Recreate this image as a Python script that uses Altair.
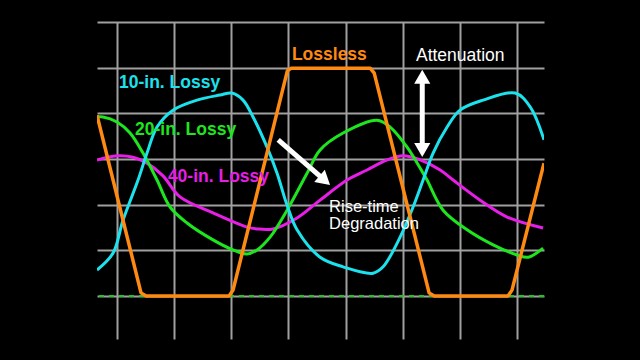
import altair as alt
import pandas as pd

# ---- data (x in grid divisions, y in grid divisions above the baseline) ----
lossless_x = [-0.35, 0.42, 0.51, 1.96, 2.03, 2.98, 3.05, 4.43, 4.50, 5.46, 5.55, 6.84, 6.91, 7.47]
lossless_y = [3.96, 0.07, 0.0, 0.0, 0.13, 4.93, 4.99, 4.99, 4.88, 0.07, 0.0, 0.0, 0.13, 2.91]

lossy10_x = [-0.35, -0.07, 0.105, 0.368, 0.525, 0.70, 0.98, 1.40, 1.80, 2.01, 2.205, 2.38, 2.625,
             2.80, 2.975, 3.15, 3.553, 3.955, 4.48, 4.655, 4.953, 5.18, 5.355, 5.53, 5.775, 6.00,
             6.405, 6.965, 7.228, 7.47]
lossy10_y = [0.57, 0.94, 1.66, 2.54, 3.13, 3.70, 4.07, 4.29, 4.40, 4.445, 4.29, 3.92, 3.26,
             2.69, 1.99, 1.45, 0.85, 0.64, 0.50, 0.64, 1.29, 1.95, 2.54, 3.13, 3.70, 4.07,
             4.29, 4.445, 4.14, 3.42]

lossy20_x = [-0.35, -0.245, 0.0, 0.228, 0.455, 0.70, 0.928, 1.225, 1.68, 2.03, 2.275, 2.45, 2.678,
             2.975, 3.325, 3.553, 3.955, 4.55, 4.778, 5.075, 5.355, 5.425, 5.705, 6.125, 6.58,
             7.0, 7.193, 7.455]
lossy20_y = [3.92, 3.92, 3.81, 3.57, 3.13, 2.54, 1.95, 1.60, 1.23, 1.01, 0.92, 1.01, 1.29,
             1.88, 2.69, 3.20, 3.57, 3.85, 3.70, 3.26, 2.69, 2.54, 1.88, 1.45, 1.12,
             0.90, 0.85, 1.05]

lossy40_x = [-0.35, 0.0, 0.28, 0.525, 0.805, 1.103, 1.68, 2.275, 2.45, 2.73, 3.15, 3.553, 4.025,
             4.375, 4.725, 5.005, 5.303, 5.653, 5.88, 6.353, 6.825, 7.455]
lossy40_y = [2.98, 3.07, 3.04, 2.91, 2.63, 2.17, 1.82, 1.51, 1.47, 1.47, 1.71, 2.10, 2.54,
             2.76, 2.98, 3.07, 2.98, 2.76, 2.54, 2.10, 1.73, 1.49]

grid_x = [0, 1, 2, 3, 4, 5, 6, 7]
grid_y = [0, 1, 2, 3, 4, 5, 6]

series_names = ["40-in. Lossy", "20-in. Lossy", "10-in. Lossy", "Lossless"]
series_colors = ["#E61EE6", "#1EE61E", "#1CE2EE", "#FF8A12"]

label_text = ["10-in. Lossy", "20-in. Lossy", "40-in. Lossy", "Lossless"]
label_x = [0.035, 0.315, 0.89, 3.06]
label_y = [4.55, 3.53, 2.50, 5.17]
label_color = ["#1CE2EE", "#1EE61E", "#E61EE6", "#FF8A12"]

note_text = ["Attenuation", "Rise-time", "Degradation"]
note_x = [5.23, 3.71, 3.71]
note_y = [5.15, 1.84, 1.47]
note_size = [17.5, 16.5, 16.5]

# arrows: shafts and heads
shaft_x = [5.34, 2.82]
shaft_y = [4.73, 3.42]
shaft_x2 = [5.34, 3.59]
shaft_y2 = [3.26, 2.58]
head_x = [5.34, 5.34, 3.635]
head_y = [4.80, 3.20, 2.53]
head_angle = [0, 180, 131]

# ---- tables ----
rows = []
for i, (a, b) in enumerate(zip(lossless_x, lossless_y)):
    rows.append({"series": "Lossless", "x": a, "y": b, "i": i})
lossless_df = pd.DataFrame(rows)

rows = []
for name, xs_, ys_ in [("40-in. Lossy", lossy40_x, lossy40_y),
                       ("20-in. Lossy", lossy20_x, lossy20_y),
                       ("10-in. Lossy", lossy10_x, lossy10_y)]:
    for i, (a, b) in enumerate(zip(xs_, ys_)):
        rows.append({"series": name, "x": a, "y": b, "i": i})
lossy_df = pd.DataFrame(rows)

labels_df = pd.DataFrame({"text": label_text, "x": label_x, "y": label_y, "color": label_color})
notes_df = pd.DataFrame({"text": note_text, "x": note_x, "y": note_y, "fs": note_size})
shaft_df = pd.DataFrame({"x": shaft_x, "y": shaft_y, "x2": shaft_x2, "y2": shaft_y2})
head_df = pd.DataFrame({"x": head_x, "y": head_y, "angle": head_angle})
base_df = pd.DataFrame({"y": [0]})

xs = alt.Scale(domain=[-0.35, 7.47], nice=False, zero=False)
ys = alt.Scale(domain=[-0.94, 6.0], nice=False, zero=False)
cs = alt.Scale(domain=series_names, range=series_colors)

xaxis = alt.Axis(values=grid_x, grid=True, gridColor="#A0A0A0", gridWidth=2, gridOpacity=1,
                 labels=False, ticks=False, domain=False, title="")
yaxis = alt.Axis(values=grid_y, grid=True, gridColor="#A0A0A0", gridWidth=2, gridOpacity=1,
                 labels=False, ticks=False, domain=False, title="")

grid = alt.Chart(base_df).mark_point(opacity=0).encode(
    x=alt.X("y:Q", scale=xs, axis=xaxis),
    y=alt.Y("y:Q", scale=ys, axis=yaxis),
)

baseline = alt.Chart(base_df).mark_rule(color="#1EC81E", strokeWidth=2, strokeDash=[5, 5]).encode(
    y=alt.Y("y:Q", scale=ys)
)

lossy = alt.Chart(lossy_df).mark_line(strokeWidth=3, interpolate="catmull-rom", clip=True).encode(
    x=alt.X("x:Q", scale=xs),
    y=alt.Y("y:Q", scale=ys),
    color=alt.Color("series:N", scale=cs, legend=None),
    order="i:Q",
)

lossless = alt.Chart(lossless_df).mark_line(strokeWidth=3.5, strokeJoin="round", clip=True).encode(
    x=alt.X("x:Q", scale=xs),
    y=alt.Y("y:Q", scale=ys),
    color=alt.Color("series:N", scale=cs, legend=None),
    order="i:Q",
)

shafts = alt.Chart(shaft_df).mark_rule(color="white", strokeWidth=5).encode(
    x=alt.X("x:Q", scale=xs), y=alt.Y("y:Q", scale=ys),
    x2="x2:Q", y2="y2:Q",
)

heads = alt.Chart(head_df).mark_point(shape="triangle-up", filled=True, color="white",
                                      opacity=1, size=260).encode(
    x=alt.X("x:Q", scale=xs), y=alt.Y("y:Q", scale=ys),
    angle=alt.Angle("angle:Q", scale=None),
)

labels = alt.Chart(labels_df).mark_text(font="Liberation Sans", fontWeight="bold", fontSize=17.5,
                                        align="left", baseline="alphabetic").encode(
    x=alt.X("x:Q", scale=xs), y=alt.Y("y:Q", scale=ys),
    text="text:N",
    color=alt.Color("color:N", scale=None),
)

notes = alt.Chart(notes_df).mark_text(font="Liberation Sans", color="white",
                                      align="left", baseline="alphabetic").encode(
    x=alt.X("x:Q", scale=xs), y=alt.Y("y:Q", scale=ys),
    text="text:N",
    size=alt.Size("fs:Q", scale=None),
)

chart = alt.layer(grid, baseline, lossy, lossless, shafts, heads, labels, notes).properties(
    width=447, height=317,
    autosize="none",
    padding={"left": 97, "top": 22, "right": 96, "bottom": 21},
    background="black",
).configure_view(strokeWidth=0)

chart.save("out.html", embed_options={"renderer": "svg", "actions": False})
